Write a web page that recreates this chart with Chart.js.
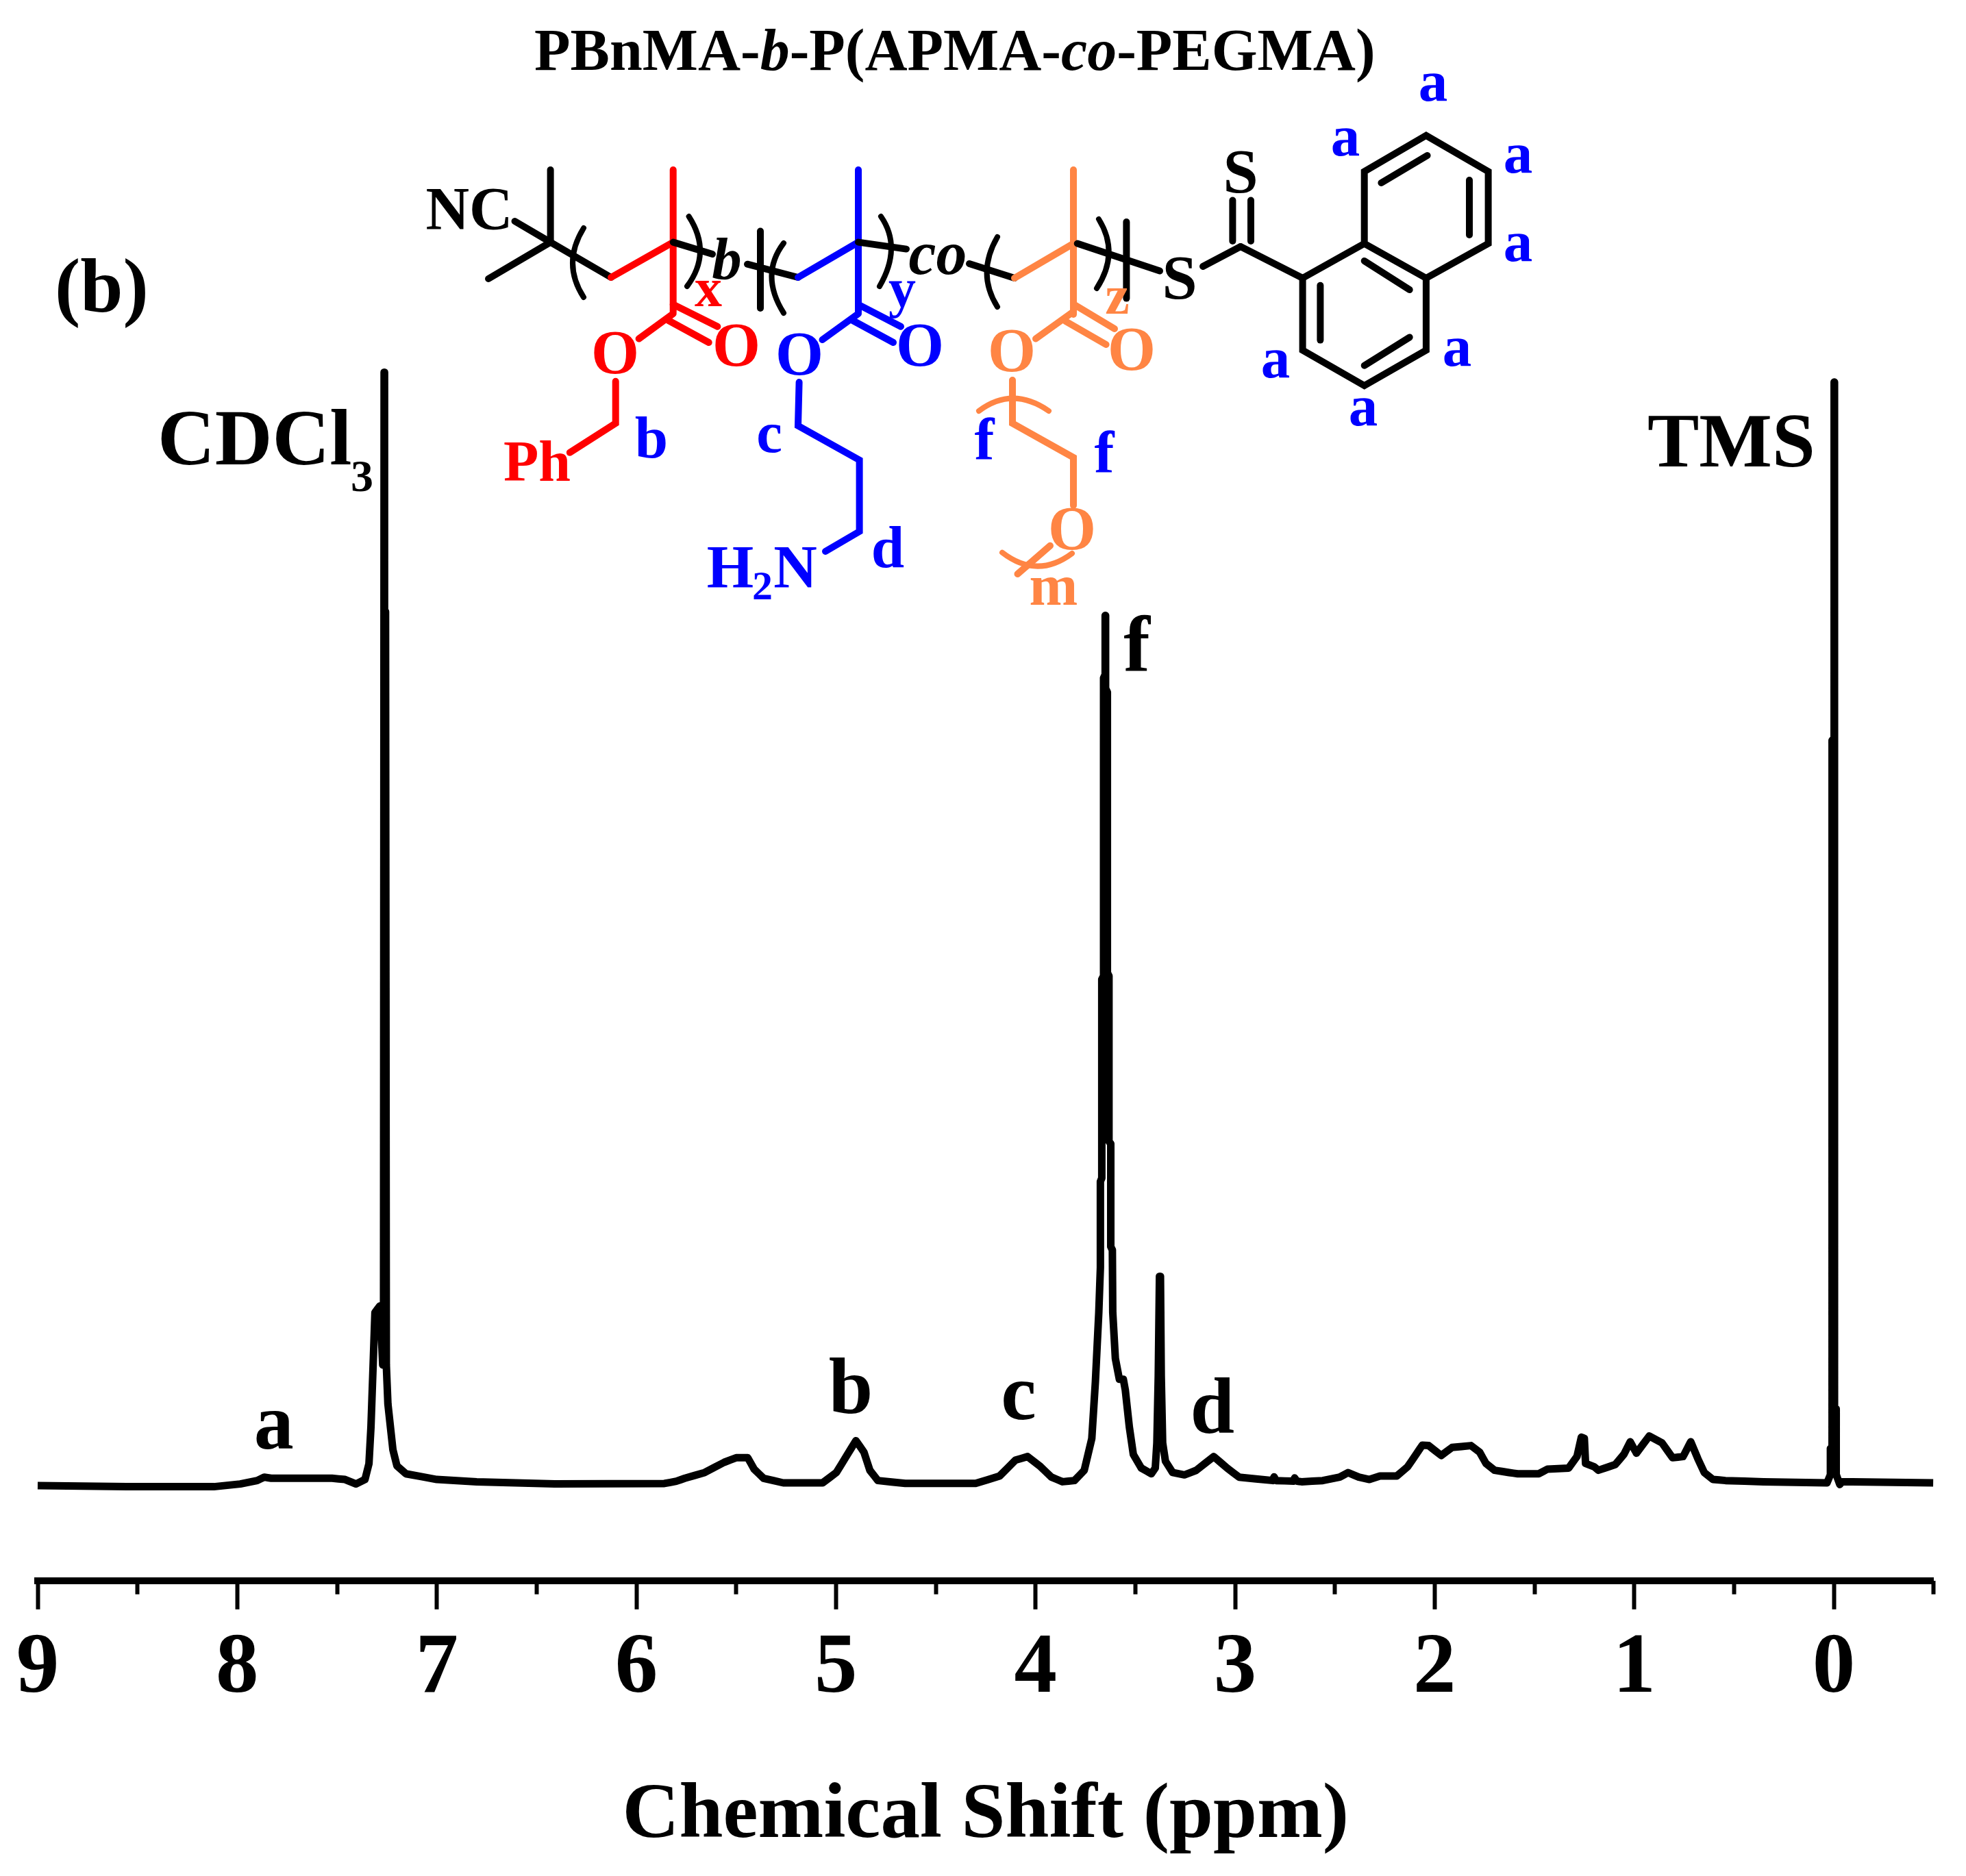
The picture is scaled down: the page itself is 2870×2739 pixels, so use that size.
<!DOCTYPE html>
<html>
<head>
<meta charset="utf-8">
<style>html,body{margin:0;padding:0;background:#fff}canvas{display:block}</style>
<script src="https://cdn.jsdelivr.net/npm/chart.js@4/dist/chart.umd.js"></script>
</head>
<body>
<canvas id="c" width="2870" height="2739"></canvas>
<script>
// ---------- chart values ----------
const chemicalShift = [
9.00,8.555,8.117,7.985,7.90,7.865,7.83,7.525,7.46,7.405,7.36,7.34,7.33,7.32,7.31,7.285,7.271,7.267,7.264,7.262,7.262,7.257,7.253,7.245,7.22,7.20,7.155,7.0,6.80,6.41,5.86,5.80,5.757,
5.658,5.56,5.50,5.442,5.41,5.363,5.264,5.067,4.998,4.949,4.90,4.86,4.83,4.79,4.653,4.30,4.18,4.10,4.04,3.98,3.92,3.865,3.805,3.756,3.718,3.70,3.683,3.675,
3.675,3.668,3.668,3.659,3.659,3.651,3.651,3.649,3.649,3.640,3.640,3.632,3.632,3.623,3.623,3.615,3.613,3.60,3.58,3.56,3.55,3.53,3.51,3.47,3.42,3.40,3.392,3.385,3.379,3.374,3.37,3.363,3.349,3.313,3.254,3.195,3.107,3.04,2.98,2.81,2.805,2.795,2.707,2.702,2.69,
2.667,2.561,2.476,2.434,2.38,2.327,2.274,2.19,2.136,2.093,2.062,2.03,1.967,1.913,1.818,1.775,1.743,1.70,1.627,1.584,1.478,1.435,1.329,1.287,1.265,1.25,1.244,1.20,1.18,1.095,1.052,1.02,0.989,0.925,0.861,0.808,0.755,0.717,0.681,0.649,0.606,0.543,0.352,
0.034,0.017,0.017,0.0086,0.0086,-0.0017,-0.0017,-0.0034,-0.0034,-0.012,-0.012,-0.03,-0.041,-0.093,-0.498];
const intensity = [
0,-0.1,-0.1,0.15,0.46,0.77,0.67,0.67,0.56,0.15,0.56,2.0,5.35,10.56,15.8,16.4,11,11.5,101.6,101.6,79.75,79.75,11,7.44,3.27,1.81,1.08,0.56,0.35,0.15,0.19,0.4,0.67,
1.19,2.125,2.54,2.54,1.5,0.67,0.25,0.25,1.19,2.65,4.1,3.06,1.39,0.46,0.2,0.2,0.875,2.33,2.65,1.81,0.77,0.35,0.46,1.39,4.3,9.5,15.8,19.9,
27.75,28.06,46.2,46.5,73.7,74,79.4,79.4,72.75,72.4,46.8,46.5,31.4,31.2,21.8,21.5,15.8,11.6,9.7,9.7,8.7,5.35,2.85,1.6,1.08,1.6,3.9,10,19.1,19.1,10,3.9,2.23,1.19,0.98,1.39,2.65,1.6,0.77,0.46,0.8,0.46,0.4,0.7,0.4,
0.35,0.46,0.77,1.19,0.77,0.56,0.875,0.875,1.71,2.85,3.69,3.65,2.75,3.48,3.65,3.06,2.02,1.4,1.19,1.08,1.08,1.5,1.6,2.65,4.42,4.31,2.02,1.71,1.4,1.92,2.85,4.0,2.96,4.52,3.9,2.54,2.65,4.0,2.44,1.19,0.56,0.46,0.35,
0.25,1,3.4,3.5,68,68.2,100.7,100.7,7,7,1,0.1,0.35,0.35,0.25];
const majorTicks = [9,8,7,6,5,4,3,2,1,0];
const minorTicks = [8.5,7.5,6.5,5.5,4.5,3.5,2.5,1.5,0.5,-0.5];
const xTitle = 'Chemical Shift (ppm)';
// peak assignments: label, ppm, intensity of the text baseline
const peakLabels = ['a','b','c','d','f'];
const peakPpm = [7.817,4.926,4.085,3.114,3.492];
const peakBase = [3.375,6.625,6.06,4.81,74.3];

// ---------- page furniture: the structural formula, in page pixels ----------
const SERIF = '"Liberation Serif"';
const RED='#ff0000', BLUE='#0000ff', ORANGE='#ff8544', BLACK='#000000';
const bonds = [
 [BLACK,[[803.6,353.6],[803.6,248]]],[BLACK,[[803.6,353.6],[751.5,323]]],[BLACK,[[803.6,353.6],[713,407]]],[BLACK,[[803.6,353.6],[892,405]]],
 [RED,[[892,405],[982.7,353.6]]],[RED,[[982.7,248],[982.7,455]]],[RED,[[932.6,494.6],[982.7,458]]],[RED,[[982.7,444.6],[1047.4,476.8]]],[RED,[[976,468],[1034.7,500]]],
 [BLACK,[[982.7,353.6],[1040,371]]],
 [BLACK,[[1110,337.5],[1110,450]]],[BLACK,[[1091,385.7],[1165,405]]],
 [BLUE,[[1165,405],[1253,353.6]]],[BLUE,[[1253,248],[1253,455]]],[BLUE,[[1200.5,496],[1253,458]]],[BLUE,[[1253,444.6],[1315,476.8]]],[BLUE,[[1245,468],[1304,500]]],
 [BLACK,[[1253,353.6],[1323,363.6]]],
 [BLACK,[[1415,385],[1481,406]]],
 [ORANGE,[[1481,406],[1567,355.6]]],[ORANGE,[[1567,248],[1567,459]]],[ORANGE,[[1512,494.5],[1567,455]]],[ORANGE,[[1567,444],[1627,480]]],[ORANGE,[[1555.5,469],[1614.6,503]]],
 [BLACK,[[1572.7,355.6],[1693,395.6]]],[BLACK,[[1644.4,324],[1644.4,435.6]]],
 [BLACK,[[1756,389],[1811,360]]],[BLACK,[[1799.4,292.5],[1799.4,352]]],[BLACK,[[1826,292.5],[1826,352]]],[BLACK,[[1811,360],[1901.6,406]]],
 // naphthalene ring
 [BLACK,[[1901.6,406],[1991.7,355.6],[1991.7,250.4],[2081.9,197.8],[2172.6,250.4],[2172.6,355.6],[2081.9,406],[1991.7,355.6]]],
 [BLACK,[[2081.9,406],[2081.9,511.4],[1991.7,563],[1901.6,511.4],[1901.6,406]]],
 [BLACK,[[2016.4,267],[2083.6,227]]],[BLACK,[[2145,263],[2145,343]]],[BLACK,[[1991.7,381],[2057.7,423]]],[BLACK,[[1927.4,416.7],[1927.4,496.6]]],[BLACK,[[1991.7,533.7],[2057.7,492.4]]],
 // side chains
 [RED,[[898.7,556.7],[898.7,618],[831.8,660.7]]],
 [BLUE,[[1166.6,558],[1165,621.7],[1254.6,671.7],[1254.6,776],[1205,805]]],
 [ORANGE,[[1478,555],[1478,618],[1567,668],[1567,738]]],
 [ORANGE,[[1533,796.7],[1485.5,838]]]
];
// bracket arcs: colour, start, middle, end
const arcs = [
 [BLACK,[852,333],[836,384],[852,434]],[BLACK,[1005.6,316],[1022,368],[1003,418]],
 [BLACK,[1144,355],[1126.5,403.6],[1144,457]],[BLACK,[1286,316],[1301,364],[1284,418]],
 [BLACK,[1456,346],[1440.6,398],[1456,448]],[BLACK,[1604,320],[1618.6,370],[1601,421]],
 [ORANGE,[1429,600],[1479,581.7],[1531,600]],[ORANGE,[1463,806.7],[1514,826.7],[1565,808]]
];
// text, centre x, baseline y, size, colour, italic
const structureText = [
 ['NC',685,334,88,BLACK,0],['b',1061,407,87,BLACK,1],['co',1369,400,90,BLACK,1],
 ['x',1034,447,80,RED,0],['y',1317,448,80,BLUE,0],['z',1631,458,80,ORANGE,0],
 ['O',898,545,90,RED,0],['O',1075,534,90,RED,0],['O',1167,547,90,BLUE,0],['O',1343,534,90,BLUE,0],
 ['O',1477,542,90,ORANGE,0],['O',1652,540,90,ORANGE,0],['O',1565,802,90,ORANGE,0],
 ['Ph',784,702,84,RED,0],['b',951,668,87,BLUE,0],['c',1123,660,85,BLUE,0],['d',1296,828,87,BLUE,0],
 ['H',1066,857,88,BLUE,0],['2',1113,875,60,BLUE,0],['N',1161,857,88,BLUE,0],
 ['f',1437,671,87,BLUE,0],['f',1612,690,87,BLUE,0],['m',1538,883,85,ORANGE,0],
 ['S',1722,436,92,BLACK,0],['S',1811,281,92,BLACK,0],
 ['a',2092,147,85,BLUE,0],['a',1964,227,85,BLUE,0],['a',2216,252,85,BLUE,0],['a',2216,381,85,BLUE,0],
 ['a',2127,534,85,BLUE,0],['a',1862,551,85,BLUE,0],['a',1990,621,85,BLUE,0]
];
const titleRuns = [['PBnMA-',0],['b',1],['-P(APMA-',0],['co',1],['-PEGMA)',0]];

const AXIS_Y = 2307.7, PX_PER_UNIT = 16, BASE_Y = 2169;

const overlay = {
  id:'overlay',
  afterDatasetsDraw(chart){
    const c = chart.ctx;
    c.save();
    c.lineCap='round'; c.lineJoin='miter'; c.lineWidth=10;
    bonds.forEach(([col,pts])=>{
      c.strokeStyle=col; c.beginPath();
      pts.forEach((p,i)=> i?c.lineTo(p[0],p[1]):c.moveTo(p[0],p[1]));
      c.stroke();
    });
    c.lineWidth=8;
    arcs.forEach(([col,a,m,b])=>{
      c.strokeStyle=col; c.beginPath(); c.moveTo(a[0],a[1]);
      c.quadraticCurveTo(2*m[0]-(a[0]+b[0])/2,2*m[1]-(a[1]+b[1])/2,b[0],b[1]);
      c.stroke();
    });
    c.textBaseline='alphabetic';
    c.textAlign='center';
    structureText.forEach(([t,x,y,s,col,it])=>{
      c.fillStyle=col; c.font=(it?'italic ':'')+'bold '+s+'px '+SERIF; c.fillText(t,x,y);
    });
    // headline
    c.textAlign='left'; c.fillStyle=BLACK;
    let tx=780;
    titleRuns.forEach(([t,it])=>{
      c.font=(it?'italic ':'')+'bold 86px '+SERIF; c.fillText(t,tx,102); tx+=c.measureText(t).width;
    });
    // panel + solvent labels
    c.font='bold 112px '+SERIF; c.fillText('(b)',80,455);
    c.font='bold 116px '+SERIF; c.fillText('CDCl',230,678);
    c.font='bold 66px '+SERIF; c.fillText('3',512,717);
    c.font='bold 113px '+SERIF; c.fillText('TMS',2405,681);
    // peak assignments placed through the scales
    c.textAlign='center'; c.font='bold 116px '+SERIF;
    peakLabels.forEach((t,i)=>{
      c.fillText(t,chart.scales.x.getPixelForValue(peakPpm[i]),chart.scales.y.getPixelForValue(peakBase[i]));
    });
    c.restore();
  }
};

new Chart(document.getElementById('c'),{
  type:'line',
  data:{datasets:[{
    label:'1H NMR',
    data:chemicalShift.map((x,i)=>({x,y:intensity[i]})),
    pointRadius:0,borderColor:'#000',backgroundColor:'#000',fill:false,
    borderWidth:11,borderJoinStyle:'round',borderCapStyle:'butt',tension:0.0005,clip:false
  }]},
  options:{
    responsive:false,animation:false,devicePixelRatio:1,
    layout:{padding:{left:55,right:47.3,top:0,bottom:0}},
    plugins:{legend:{display:false},tooltip:{enabled:false},title:{display:false}},
    events:[],
    scales:{
      x:{
        type:'linear',reverse:true,min:-0.5,max:9,position:'bottom',weight:1,
        afterBuildTicks:s=>{s.ticks=majorTicks.map(value=>({value}));},
        afterFit:s=>{s.height=2739-AXIS_Y;},
        grid:{display:true,drawOnChartArea:false,drawTicks:true,tickLength:42,tickWidth:6,tickColor:'#000'},
        border:{display:true,width:10,color:'#000'},
        ticks:{autoSkip:false,maxRotation:0,minRotation:0,padding:13,color:'#000',
          font:{family:SERIF,weight:'bold',size:125},callback:v=>String(v)},
        title:{display:true,text:xTitle,color:'#000',font:{family:SERIF,weight:'bold',size:115},padding:{top:0,bottom:18}}
      },
      x2:{
        type:'linear',reverse:true,min:-0.5,max:9,position:'bottom',weight:0,
        afterBuildTicks:s=>{s.ticks=minorTicks.map(value=>({value}));},
        afterFit:s=>{s.height=0;},
        grid:{display:true,drawOnChartArea:false,drawTicks:true,tickLength:20,tickWidth:6,tickColor:'#000'},
        border:{display:false},
        ticks:{display:false}
      },
      y:{type:'linear',display:false,min:(BASE_Y-AXIS_Y)/PX_PER_UNIT,max:BASE_Y/PX_PER_UNIT}
    }
  },
  plugins:[overlay]
});
</script>
</body>
</html>
